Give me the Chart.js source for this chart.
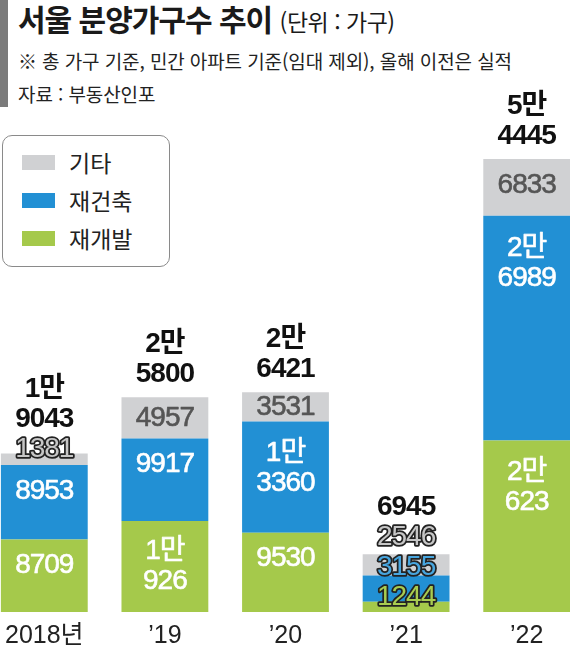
<!DOCTYPE html>
<html lang="ko">
<head>
<meta charset="utf-8">
<script src="https://cdn.jsdelivr.net/npm/chart.js@4/dist/chart.umd.min.js"></script>
<style>
  html, body { margin: 0; padding: 0; background: #fff; }
  body { width: 570px; height: 649px; position: relative; overflow: hidden;
         font-family: 'Noto Sans CJK KR', 'Noto Sans', sans-serif; color: #222; }
  #accent { position: absolute; left: 0; top: 0; width: 8px; height: 107px; background: #7b7b7b; }
  #title { position: absolute; left: 18px; top: 0; line-height: 36px; font-size: 30px;
           font-weight: 700; letter-spacing: -1px; color: #1a1a1a; white-space: nowrap; }
  #title span { font-size: 23px; font-weight: 400; letter-spacing: -0.5px; }
  .note { position: absolute; left: 18px; line-height: 24px; font-size: 19px;
          letter-spacing: -0.1px; white-space: nowrap; color: #222; }
  #legend { position: absolute; left: 2px; top: 135px; width: 168px; height: 132px;
            box-sizing: border-box; border: 1.5px solid #8a8a8a; border-radius: 10px; background: #fff; z-index: 2; }
  .row { position: absolute; left: 0; height: 30px; line-height: 30px; font-size: 23px; color: #222; }
  .row i { position: absolute; left: 19px; top: 8px; width: 33px; height: 15px; }
  .row b { position: absolute; left: 66px; font-weight: 400; white-space: nowrap; }
  #wrap { position: absolute; left: -16px; top: 0; width: 603px; height: 649px; }
</style>
</head>
<body>
<div id="accent"></div>
<div id="title">서울 분양가구수 추이 <span>(단위 : 가구)</span></div>
<div class="note" style="top:49px">※ 총 가구 기준, 민간 아파트 기준(임대 제외), 올해 이전은 실적</div>
<div class="note" style="top:82px">자료 : 부동산인포</div>
<div id="legend"></div>
<div id="wrap"><canvas id="chart" width="603" height="649"></canvas></div>

<script>
// 데이터 (단위: 가구)
const years = ['2018년', '’19', '’20', '’21', '’22'];
const redevelop = [8709, 10926, 9530, 1244, 20623];   // 재개발
const rebuild = [8953, 9917, 13360, 3155, 26989];     // 재건축
const others = [1381, 4957, 3531, 2546, 6833];        // 기타
const totals = [19043, 25800, 26421, 6945, 54445];

const NUM_FONT = "'Liberation Sans', 'Noto Sans CJK KR', sans-serif";

// 1만 이상은 "N만 / 나머지" 두 줄로
function fmt(v) {
    if (v >= 10000) return [Math.floor(v / 10000) + '만', String(v % 10000)];
    return [String(v)];
}

// 막대 안/위 숫자 그리기
const segLabels = {
    id: 'segLabels',
    afterDatasetsDraw(chart) {
        const ctx = chart.ctx;
        ctx.save();
        ctx.textAlign = 'center';
        ctx.textBaseline = 'middle';
        ctx.letterSpacing = '-1px';
        ctx.lineJoin = 'round';
        const LH = 30;

        years.forEach((yr, i) => {
            let prevTop = Infinity;
            let barTop = Infinity;
            chart.data.datasets.forEach((ds, d) => {
                const bar = chart.getDatasetMeta(d).data[i];
                const top = bar.y, bot = bar.base;
                barTop = Math.min(barTop, top);
                const lines = fmt(ds.data[i]);
                const n = lines.length;
                const small = (bot - top) < 28;   // 얇은 구간은 외곽선 글자로
                let cy;
                if (small) {
                    cy = Math.min(top - 4, bot - 15, prevTop - LH);
                } else {
                    cy = Math.min((top + bot) / 2, top + (n === 1 ? 26 : 47), prevTop - LH);
                }
                ctx.font = '400 28px ' + NUM_FONT;
                lines.forEach((t, j) => {
                    const ly = cy + (j - (n - 1) / 2) * LH;
                    if (small) {
                        ctx.lineWidth = 3.5;
                        ctx.strokeStyle = '#222';
                        ctx.strokeText(t, bar.x, ly);
                        ctx.fillStyle = ds.outlineFill;
                        ctx.fillText(t, bar.x, ly);
                    } else {
                        // 살짝 두껍게
                        ctx.lineWidth = 0.6;
                        ctx.strokeStyle = ds.labelColor;
                        ctx.fillStyle = ds.labelColor;
                        ctx.strokeText(t, bar.x, ly);
                        ctx.fillText(t, bar.x, ly);
                    }
                });
                prevTop = cy - (n - 1) / 2 * LH;
            });

            // 합계
            const tl = fmt(totals[i]);
            const lastY = Math.min(barTop - 23, prevTop - LH);
            ctx.font = '700 28px ' + NUM_FONT;
            ctx.fillStyle = '#111';
            tl.forEach((t, j) => {
                ctx.fillText(t, chart.getDatasetMeta(0).data[i].x, lastY - (tl.length - 1 - j) * LH);
            });
        });
        ctx.restore();
    }
};

const datasets = [
    { label: '재개발', data: redevelop, backgroundColor: '#a5c94b', labelColor: '#fff', outlineFill: '#a8cc50' },
    { label: '재건축', data: rebuild, backgroundColor: '#2290d4', labelColor: '#fff', outlineFill: '#48a6df' },
    { label: '기타', data: others, backgroundColor: '#d0d1d3', labelColor: '#555', outlineFill: '#c6c6c6' }
];

// 범례 (기타, 재건축, 재개발 순)
const legend = document.getElementById('legend');
datasets.slice().reverse().forEach((ds, k) => {
    const row = document.createElement('div');
    row.className = 'row';
    row.style.top = (11 + k * 38) + 'px';
    row.innerHTML = '<i style="background:' + ds.backgroundColor + '"></i><b>' + ds.label + '</b>';
    legend.appendChild(row);
});

new Chart(document.getElementById('chart').getContext('2d'), {
    type: 'bar',
    data: { labels: years, datasets: datasets },
    options: {
        responsive: false,
        animation: false,
        layout: { padding: 0 },
        datasets: { bar: { categoryPercentage: 1, barPercentage: 0.72, borderWidth: 0 } },
        plugins: { legend: { display: false }, tooltip: { enabled: false } },
        scales: {
            x: {
                stacked: true,
                grid: { display: false, drawTicks: false },
                border: { display: false },
                ticks: { color: '#222', padding: 9, font: { family: NUM_FONT, size: 25 } },
                afterFit(s) { s.height = 37; }
            },
            y: { stacked: true, display: false, min: 0, max: 73550 }
        }
    },
    plugins: [segLabels]
});
</script>
</body>
</html>
